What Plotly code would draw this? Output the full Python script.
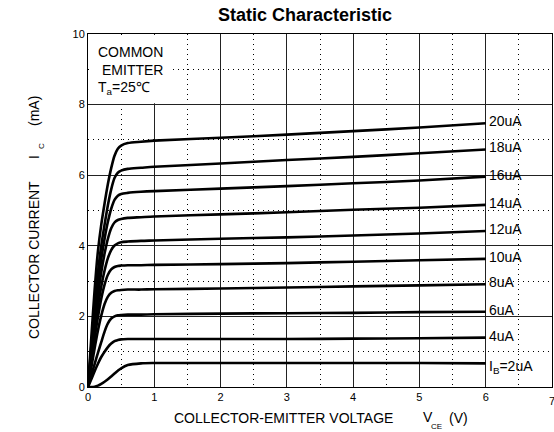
import plotly.graph_objects as go

# ---- data ----
vce = [0, 0.05, 0.1, 0.15, 0.2, 0.25, 0.3, 0.35, 0.4, 0.45, 0.5, 0.6, 0.8, 1.0, 2, 3, 4, 5, 6]

ic_2uA  = [0, 0.0, 0.01, 0.04, 0.09, 0.15, 0.22, 0.30, 0.38, 0.46, 0.53, 0.62, 0.67, 0.68, 0.68, 0.68, 0.68, 0.68, 0.67]
ic_4uA  = [0, 0.22, 0.45, 0.66, 0.85, 1.00, 1.13, 1.23, 1.30, 1.33, 1.35, 1.36, 1.36, 1.36, 1.36, 1.36, 1.37, 1.38, 1.40]
ic_6uA  = [0, 0.33, 0.65, 0.97, 1.27, 1.57, 1.80, 1.94, 2.00, 2.03, 2.04, 2.05, 2.05, 2.06, 2.08, 2.09, 2.10, 2.12, 2.13]
ic_8uA  = [0, 0.55, 1.10, 1.60, 2.02, 2.35, 2.56, 2.67, 2.72, 2.74, 2.75, 2.76, 2.76, 2.77, 2.79, 2.82, 2.85, 2.88, 2.91]
ic_10uA = [0, 0.70, 1.38, 1.98, 2.50, 2.90, 3.18, 3.33, 3.40, 3.43, 3.44, 3.45, 3.45, 3.46, 3.48, 3.51, 3.55, 3.59, 3.63]
ic_12uA = [0, 0.80, 1.58, 2.28, 2.85, 3.30, 3.65, 3.88, 4.01, 4.07, 4.10, 4.12, 4.14, 4.15, 4.20, 4.24, 4.29, 4.35, 4.42]
ic_14uA = [0, 0.90, 1.78, 2.58, 3.25, 3.78, 4.20, 4.50, 4.66, 4.73, 4.76, 4.79, 4.81, 4.83, 4.89, 4.95, 5.02, 5.08, 5.16]
ic_16uA = [0, 1.02, 2.02, 2.90, 3.62, 4.20, 4.68, 5.05, 5.30, 5.42, 5.47, 5.50, 5.53, 5.55, 5.62, 5.69, 5.77, 5.85, 5.96]
ic_18uA = [0, 1.15, 2.30, 3.25, 4.00, 4.60, 5.15, 5.60, 5.92, 6.07, 6.13, 6.18, 6.21, 6.24, 6.33, 6.43, 6.52, 6.62, 6.73]
ic_20uA = [0, 1.40, 2.75, 3.85, 4.60, 5.20, 5.75, 6.20, 6.55, 6.75, 6.84, 6.91, 6.95, 6.98, 7.06, 7.15, 7.25, 7.35, 7.47]

series = [ic_2uA, ic_4uA, ic_6uA, ic_8uA, ic_10uA, ic_12uA, ic_14uA, ic_16uA, ic_18uA, ic_20uA]
labels = ["I<sub>B</sub>=2uA", "4uA", "6uA", "8uA", "10uA", "12uA", "14uA", "16uA", "18uA", "20uA"]

x_ticks = [0, 1, 2, 3, 4, 5, 6, 7]
y_ticks = [0, 2, 4, 6, 8, 10]

FONT = "Arial, Liberation Sans, Helvetica, sans-serif"
W, H = 554, 432
ML, MR, MT, MB = 88, 2, 34, 45
PW, PH = W - ML - MR, H - MT - MB


def px(x):
    return (x - ML) / PW


def py(y):
    return (H - MB - y) / PH


fig = go.Figure()
for ys, lab in zip(series, labels):
    fig.add_trace(go.Scatter(
        x=vce, y=ys, mode="lines", name=lab,
        line=dict(color="black", width=2.6, shape="spline", smoothing=0.8),
        hoverinfo="skip", showlegend=False))

annotations = []
for ys, lab in zip(series, labels):
    annotations.append(dict(
        x=vce[-1], y=ys[-1], xref="x", yref="y", text=lab, showarrow=False,
        xanchor="left", yanchor="middle", xshift=1,
        yshift=(-4 if lab.startswith("I") else 2),
        font=dict(family=FONT, size=14, color="black")))

# last x tick label, partly cut at the right edge as in the reference
annotations.append(dict(x=x_ticks[-1], y=0, xref="x", yref="y", text=str(x_ticks[-1]),
                        showarrow=False, xanchor="center", yanchor="top", yshift=-6,
                        font=dict(family=FONT, size=11, color="black")))

# title
annotations.append(dict(x=px(305), y=py(15), xref="paper", yref="paper",
                        text="<b>Static Characteristic</b>", showarrow=False,
                        xanchor="center", yanchor="middle",
                        font=dict(family=FONT, size=18, color="black")))
# x axis title pieces
annotations += [
    dict(x=px(283), y=py(418), xref="paper", yref="paper", text="COLLECTOR-EMITTER VOLTAGE",
         showarrow=False, xanchor="center", yanchor="middle",
         font=dict(family=FONT, size=14, color="black")),
    dict(x=px(428), y=py(417), xref="paper", yref="paper", text="V",
         showarrow=False, xanchor="center", yanchor="middle",
         font=dict(family=FONT, size=14, color="black")),
    dict(x=px(436), y=py(426), xref="paper", yref="paper", text="CE",
         showarrow=False, xanchor="center", yanchor="middle",
         font=dict(family=FONT, size=8, color="black")),
    dict(x=px(458), y=py(418), xref="paper", yref="paper", text="(V)",
         showarrow=False, xanchor="center", yanchor="middle",
         font=dict(family=FONT, size=14, color="black")),
]
# y axis title pieces
annotations += [
    dict(x=px(34), y=py(260), xref="paper", yref="paper", text="COLLECTOR CURRENT",
         showarrow=False, textangle=-90, xanchor="center", yanchor="middle",
         font=dict(family=FONT, size=14, color="black")),
    dict(x=px(34), y=py(157), xref="paper", yref="paper", text="I",
         showarrow=False, textangle=-90, xanchor="center", yanchor="middle",
         font=dict(family=FONT, size=14, color="black")),
    dict(x=px(41), y=py(146), xref="paper", yref="paper", text="C",
         showarrow=False, textangle=-90, xanchor="center", yanchor="middle",
         font=dict(family=FONT, size=8, color="black")),
    dict(x=px(34), y=py(111), xref="paper", yref="paper", text="(mA)",
         showarrow=False, textangle=-90, xanchor="center", yanchor="middle",
         font=dict(family=FONT, size=14, color="black")),
]
# condition box text
annotations += [
    dict(x=px(96), y=py(52), xref="paper", yref="paper", text="COMMON",
         showarrow=False, xanchor="left", yanchor="middle",
         font=dict(family=FONT, size=14, color="black")),
    dict(x=px(100), y=py(70), xref="paper", yref="paper", text="EMITTER",
         showarrow=False, xanchor="left", yanchor="middle",
         font=dict(family=FONT, size=14, color="black")),
    dict(x=px(96), y=py(88), xref="paper", yref="paper", text="T<sub>a</sub>=25℃",
         showarrow=False, xanchor="left", yanchor="middle",
         font=dict(family=FONT, size=14, color="black")),
]

fig.update_layout(
    width=W, height=H,
    margin=dict(l=ML, r=MR, t=MT, b=MB, pad=0),
    paper_bgcolor="white", plot_bgcolor="white",
    annotations=annotations,
    shapes=[dict(type="rect", xref="x", yref="y", x0=0.02, x1=1.25, y0=8.04, y1=9.97,
                 fillcolor="white", line=dict(width=0), layer="between")],
    font=dict(family=FONT, size=11, color="black"),
)
fig.update_xaxes(
    range=[0, 7], tickvals=x_ticks, ticktext=[str(v) for v in x_ticks],
    showgrid=True, gridcolor="#222", gridwidth=1,
    minor=dict(dtick=0.5, tick0=0, showgrid=True, gridcolor="black", griddash="1px,4px", gridwidth=1),
    showline=True, linecolor="black", linewidth=1, mirror=True,
    ticks="", zeroline=False, tickfont=dict(family=FONT, size=11, color="black"),
)
fig.update_yaxes(
    range=[0, 10], tickvals=y_ticks, ticktext=[str(v) for v in y_ticks],
    showgrid=True, gridcolor="#222", gridwidth=1,
    minor=dict(dtick=1, tick0=0, showgrid=True, gridcolor="black", griddash="1px,4px", gridwidth=1),
    showline=True, linecolor="black", linewidth=1, mirror=True,
    ticks="", zeroline=False, tickfont=dict(family=FONT, size=11, color="black"),
)

fig.write_html("out.html")
